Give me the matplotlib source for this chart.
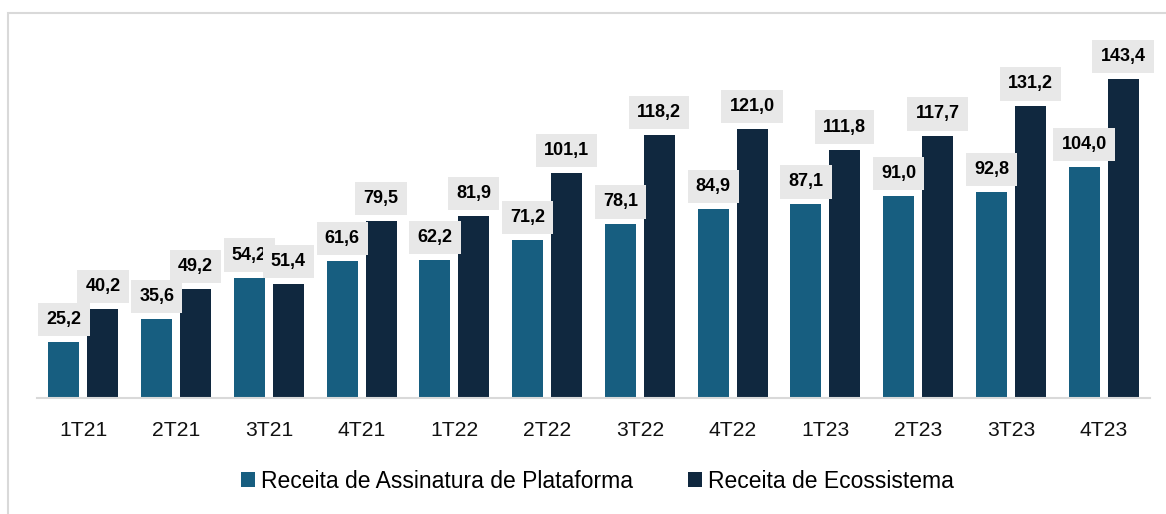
import matplotlib.pyplot as plt
import numpy as np
from matplotlib.patches import Patch, Rectangle

# receita trimestral (R$ milhões)
trimestres = ["1T21", "2T21", "3T21", "4T21", "1T22", "2T22",
              "3T22", "4T22", "1T23", "2T23", "3T23", "4T23"]
plataforma = [25.2, 35.6, 54.2, 61.6, 62.2, 71.2, 78.1, 84.9, 87.1, 91.0, 92.8, 104.0]
ecossistema = [40.2, 49.2, 51.4, 79.5, 81.9, 101.1, 118.2, 121.0, 111.8, 117.7, 131.2, 143.4]
legenda = ["Receita de Assinatura de Plataforma", "Receita de Ecossistema"]

cor_plat = "#175E80"
cor_eco = "#10283F"
cinza = "#D9D9D9"

plt.rcParams["font.family"] = ["Liberation Sans", "DejaVu Sans"]

fig = plt.figure(figsize=(11.66, 5.14), dpi=100)
W, H = 1166, 514

# moldura cinza (cortada à direita e embaixo)
fig.patches.append(Rectangle((7.5 / W, -0.05), 1.1, (H - 13) / H + 0.05,
                             transform=fig.transFigure, fill=False,
                             edgecolor=cinza, linewidth=1.5))

ax = fig.add_axes([37 / W, 116 / H, 1113 / W, 385 / H])

x = np.arange(len(trimestres))
larg = 0.334
desl = 0.21
ax.bar(x - desl, plataforma, larg, color=cor_plat, zorder=2)
ax.bar(x + desl, ecossistema, larg, color=cor_eco, zorder=2)

def rotulo(xp, v, z):
    txt = f"{v:.1f}".replace(".", ",")
    ax.annotate(txt, (xp, v), xytext=(0, 16.2), textcoords="offset points",
                ha="center", va="center", fontsize=13, fontweight="bold",
                color="black", zorder=z,
                bbox=dict(boxstyle="square,pad=0.45", facecolor="#E8E8E8",
                          edgecolor="none"))

for i in range(len(trimestres)):
    rotulo(x[i] - desl, plataforma[i], 3)
for i in range(len(trimestres)):
    rotulo(x[i] + desl, ecossistema[i], 4)

ax.set_xlim(-0.5, len(trimestres) - 0.5)
ax.set_ylim(0, 385 / 2.222)
ax.set_xticks(x)
ax.set_xticklabels(trimestres, fontsize=15.2, color="#111111")
ax.tick_params(axis="x", length=0, pad=16.5)
ax.set_yticks([])
for s in ["top", "left", "right"]:
    ax.spines[s].set_visible(False)
ax.spines["bottom"].set_color(cinza)
ax.spines["bottom"].set_linewidth(1.5)

handles = [Patch(facecolor=cor_plat), Patch(facecolor=cor_eco)]
fig.legend(handles, legenda, loc="center", bbox_to_anchor=(597.5 / W, 33 / H),
           ncol=2, frameon=False, prop={"size": 16.5},
           handlelength=0.61, handleheight=0.61, handletextpad=0.27,
           columnspacing=2.4)

fig.savefig("out.png", dpi=100)
